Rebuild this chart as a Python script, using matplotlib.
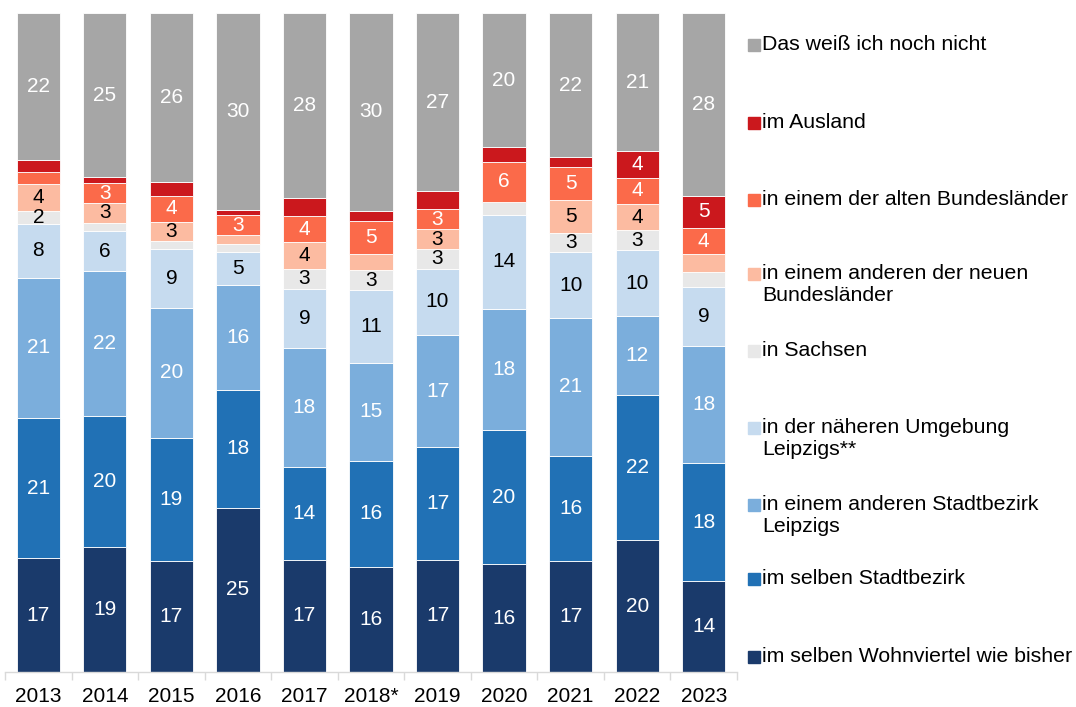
import matplotlib
matplotlib.use("Agg")
import matplotlib.pyplot as plt
import numpy as np
from matplotlib.patches import Rectangle

plt.rcParams['font.family'] = ['Liberation Sans', 'DejaVu Sans']

years = ["2013", "2014", "2015", "2016", "2017", "2018*", "2019", "2020", "2021", "2022", "2023"]

# series, bottom to top (percent)
wohnviertel = [17, 19, 17, 25, 17, 16, 17, 16, 17, 20, 14]
selben_bezirk = [21, 20, 19, 18, 14, 16, 17, 20, 16, 22, 18]
anderer_bezirk = [21, 22, 20, 16, 18, 15, 17, 18, 21, 12, 18]
umgebung = [8, 6, 9, 5, 9, 11, 10, 14, 10, 10, 9]
sachsen = [2, 1.3, 1.2, 1.2, 3, 3, 3, 1.9, 3, 3, 2.3]
neue_laender = [4, 3, 3, 1.4, 4, 2.5, 3, 0, 5, 4, 2.8]
alte_laender = [1.8, 3, 4, 3, 4, 5, 3, 6, 5, 4, 4]
ausland = [1.8, 0.9, 2.1, 0.8, 2.7, 1.6, 2.7, 2.1, 1.5, 4, 5]
weiss_nicht = [22, 25, 26, 30, 28, 30, 27, 20, 22, 21, 28]

series_labels = [
    "im selben Wohnviertel wie bisher",
    "im selben Stadtbezirk",
    "in einem anderen Stadtbezirk\nLeipzigs",
    "in der näheren Umgebung\nLeipzigs**",
    "in Sachsen",
    "in einem anderen der neuen\nBundesländer",
    "in einem der alten Bundesländer",
    "im Ausland",
    "Das weiß ich noch nicht",
]
series = [wohnviertel, selben_bezirk, anderer_bezirk, umgebung, sachsen,
          neue_laender, alte_laender, ausland, weiss_nicht]
colors = ["#1A3A6B", "#2171B5", "#7BAEDC", "#C6DBEF", "#E8E8E8",
          "#FCBBA1", "#FB6A4A", "#CB181D", "#A6A6A6"]
text_colors = ["white", "white", "white", "black", "black",
               "black", "white", "white", "white"]

W, H = 1076, 707
fig = plt.figure(figsize=(W / 100, H / 100), dpi=100)
ax = fig.add_axes([5 / W, (H - 672) / H, 732 / W, 659 / H])

data = np.array(series, dtype=float)
totals = data.sum(axis=0)
pct = data / totals * 100
x = np.arange(len(years))
bottom = np.zeros(len(years))
for k in range(len(series)):
    ax.bar(x, pct[k], bottom=bottom, width=0.65, color=colors[k],
           edgecolor="white", linewidth=0.6)
    for i in range(len(years)):
        v = data[k][i]
        show = v >= 3 or (k == 4 and i == 0)
        if show:
            ax.text(x[i], bottom[i] + pct[k][i] / 2, f"{v:.0f}", ha="center",
                    va="center", fontsize=15, color=text_colors[k])
    bottom += pct[k]

ax.set_xlim(-0.5, len(years) - 0.5)
ax.set_ylim(0, 100)
ax.set_yticks([])
for s in ["top", "right", "left"]:
    ax.spines[s].set_visible(False)
ax.spines["bottom"].set_color("#D9D9D9")
ax.spines["bottom"].set_linewidth(1)
ax.set_xticks(x)
ax.set_xticklabels(years, fontsize=15)
ax.tick_params(axis="x", which="major", length=0, pad=11)
ax.set_xticks(np.arange(-0.5, len(years)), minor=True)
ax.tick_params(axis="x", which="minor", length=6, color="#D9D9D9", width=1)

# legend (manual, top to bottom)
leg_y = [45, 123, 200, 274, 351, 428, 505, 579, 657]
order = list(range(len(series)))[::-1]
for yy, k in zip(leg_y, order):
    fig.patches.append(Rectangle((748 / W, (H - yy - 6) / H), 12 / W, 12 / H,
                                 transform=fig.transFigure, color=colors[k]))
    fig.text(762 / W, (H - yy + 10) / H, series_labels[k], ha="left", va="top",
             fontsize=15.3, linespacing=1.2)

fig.savefig("out.png", dpi=100)
